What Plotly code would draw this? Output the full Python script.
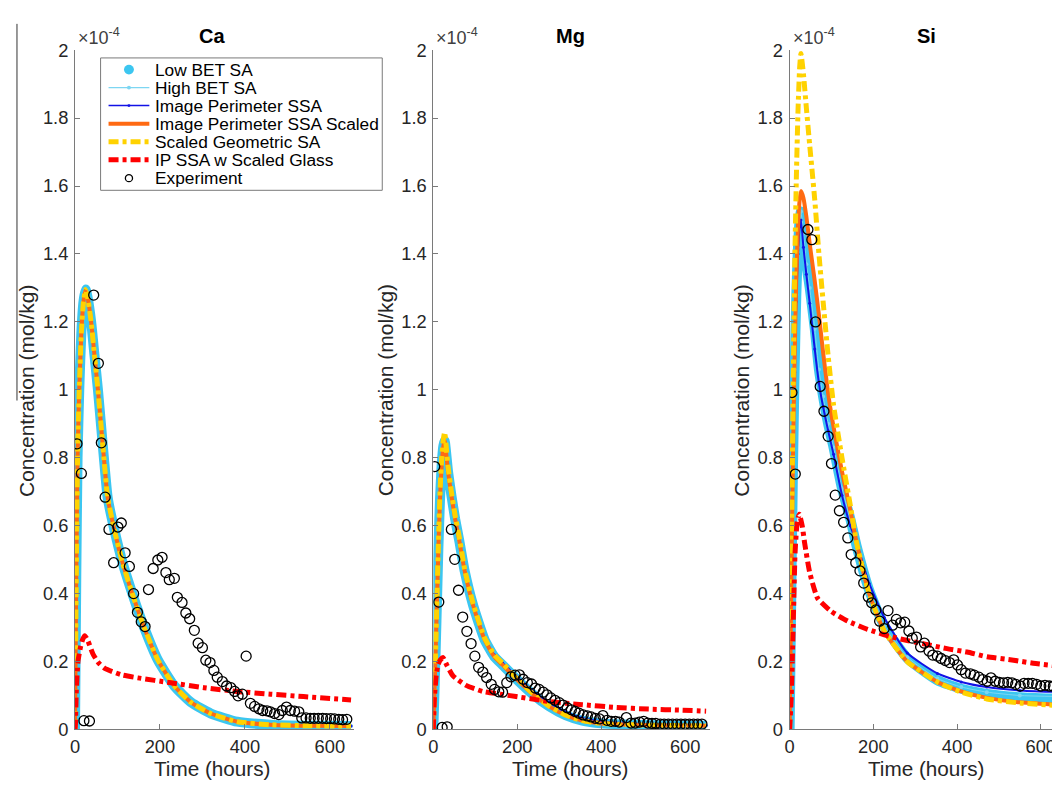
import plotly.graph_objects as go

# ---------------- data (concentration in units of 1e-4 mol/kg, time in hours) ----------------
ca_model_t = [0, 3, 6, 10, 15, 20, 25, 30, 38, 46, 54, 61, 68, 77, 93, 112, 136, 163, 195, 234, 273, 320, 382, 460, 550, 650]
ca_model = [0, 0.45, 0.8, 1.0, 1.17, 1.26, 1.295, 1.27, 1.2, 1.1, 1.0, 0.9, 0.8, 0.682, 0.586, 0.491, 0.396, 0.3, 0.205, 0.128, 0.08, 0.047, 0.023, 0.014, 0.011, 0.01]
ca_red_t = [0, 1, 3, 7, 13, 18, 23, 30, 42, 55, 70, 109, 148, 226, 304, 382, 460, 538, 650]
ca_red = [0, 0.015, 0.11, 0.2, 0.243, 0.265, 0.276, 0.262, 0.223, 0.197, 0.18, 0.161, 0.152, 0.1375, 0.123, 0.112, 0.104, 0.097, 0.087]
ca_exp_t = [4.7, 15, 21, 34, 44, 55, 62, 71, 80, 91, 101, 109, 118, 128, 138, 147, 156, 165, 173, 184, 195, 205, 214, 222, 234, 241, 252, 261, 270, 281, 290, 300, 308, 318, 327, 335, 347, 357, 367, 376, 384, 394, 403, 413, 423, 433, 442, 452, 460, 470, 480, 488, 498, 507, 517, 527, 534, 544, 554, 563, 573, 583, 592, 602, 611, 621, 630, 640]
ca_exp = [0.841, 0.754, 0.026, 0.025, 1.279, 1.078, 0.844, 0.684, 0.589, 0.491, 0.596, 0.608, 0.52, 0.48, 0.40, 0.345, 0.317, 0.303, 0.412, 0.474, 0.499, 0.507, 0.462, 0.441, 0.445, 0.389, 0.374, 0.343, 0.326, 0.292, 0.254, 0.241, 0.204, 0.197, 0.174, 0.154, 0.141, 0.128, 0.123, 0.112, 0.099, 0.104, 0.216, 0.077, 0.068, 0.061, 0.056, 0.055, 0.052, 0.047, 0.044, 0.056, 0.066, 0.056, 0.054, 0.052, 0.034, 0.034, 0.033, 0.033, 0.033, 0.033, 0.032, 0.032, 0.031, 0.03, 0.029, 0.03]

mg_model_t = [0, 3, 6, 9, 12, 16, 20, 24, 27, 35, 43, 52, 62, 75, 95, 122, 145, 165, 197, 236, 276, 315, 355, 400, 450, 500, 560, 650]
mg_model = [0, 0.12, 0.25, 0.39, 0.53, 0.68, 0.78, 0.835, 0.85, 0.76, 0.69, 0.62, 0.555, 0.465, 0.365, 0.265, 0.215, 0.19, 0.15, 0.105, 0.068, 0.042, 0.026, 0.018, 0.015, 0.013, 0.012, 0.011]
mg_ip = [0, 0.12, 0.25, 0.39, 0.53, 0.68, 0.78, 0.835, 0.85, 0.76, 0.69, 0.62, 0.555, 0.465, 0.365, 0.268, 0.22, 0.196, 0.158, 0.115, 0.08, 0.052, 0.034, 0.024, 0.019, 0.016, 0.014, 0.012]
mg_geo = [0, 0.12, 0.25, 0.4, 0.54, 0.7, 0.8, 0.855, 0.875, 0.775, 0.7, 0.63, 0.565, 0.47, 0.37, 0.27, 0.22, 0.195, 0.153, 0.107, 0.069, 0.043, 0.026, 0.018, 0.015, 0.013, 0.012, 0.011]
mg_red_t = [0, 3, 7, 11, 17, 23, 32, 47, 78, 118, 160, 197, 245, 276, 355, 434, 513, 592, 650]
mg_red = [0, 0.1, 0.16, 0.19, 0.205, 0.212, 0.19, 0.158, 0.13, 0.112, 0.104, 0.097, 0.088, 0.082, 0.073, 0.065, 0.06, 0.057, 0.054]
mg_exp_t = [3.3, 13, 21, 33, 43, 51, 60, 70, 80, 90, 99, 108, 118, 127, 138, 146, 156, 165, 175, 185, 195, 205, 214, 224, 234, 243, 252, 262, 271, 280, 290, 300, 309, 319, 329, 338, 347, 357, 367, 376, 386, 396, 404, 414, 424, 434, 443, 460, 471, 481, 491, 501, 511, 521, 530, 541, 550, 560, 570, 580, 590, 600, 610, 620, 630, 640]
mg_exp = [0.774, 0.375, 0.006, 0.008, 0.589, 0.501, 0.41, 0.331, 0.289, 0.253, 0.216, 0.183, 0.169, 0.153, 0.133, 0.118, 0.111, 0.11, 0.138, 0.155, 0.16, 0.161, 0.148, 0.138, 0.134, 0.122, 0.118, 0.11, 0.102, 0.093, 0.086, 0.079, 0.072, 0.064, 0.058, 0.053, 0.048, 0.043, 0.04, 0.037, 0.033, 0.031, 0.041, 0.027, 0.024, 0.024, 0.022, 0.035, 0.019, 0.019, 0.022, 0.024, 0.019, 0.018, 0.018, 0.016, 0.016, 0.016, 0.016, 0.016, 0.016, 0.016, 0.016, 0.016, 0.016, 0.016]

si_t = [0, 4, 8, 12, 16, 20, 24, 27, 33, 40, 48, 60, 70, 80, 92, 105, 125, 145, 160, 190, 226, 281, 353, 410, 471, 550, 646]
si_low = [0, 0.4, 0.77, 1.06, 1.28, 1.42, 1.5, 1.525, 1.46, 1.37, 1.3, 1.18, 1.06, 0.98, 0.9, 0.83, 0.71, 0.62, 0.54, 0.41, 0.305, 0.21, 0.145, 0.12, 0.105, 0.095, 0.09]
si_high = [0, 0.4, 0.77, 1.06, 1.28, 1.42, 1.5, 1.525, 1.46, 1.37, 1.3, 1.18, 1.06, 0.98, 0.9, 0.83, 0.71, 0.62, 0.54, 0.41, 0.305, 0.213, 0.15, 0.125, 0.11, 0.1, 0.097]
si_ip = [0, 0.4, 0.76, 1.05, 1.26, 1.4, 1.48, 1.5, 1.42, 1.34, 1.255, 1.12, 1.02, 0.95, 0.88, 0.81, 0.69, 0.6, 0.55, 0.43, 0.33, 0.225, 0.165, 0.14, 0.125, 0.115, 0.11]
si_ips = [0, 0.42, 0.8, 1.1, 1.33, 1.48, 1.56, 1.585, 1.565, 1.51, 1.43, 1.32, 1.22, 1.11, 0.99, 0.89, 0.76, 0.645, 0.55, 0.4, 0.29, 0.2, 0.14, 0.112, 0.093, 0.08, 0.072]
si_geo = [0, 0.5, 0.95, 1.35, 1.62, 1.82, 1.95, 1.99, 1.93, 1.83, 1.72, 1.56, 1.4, 1.26, 1.1, 0.955, 0.8, 0.66, 0.55, 0.4, 0.29, 0.2, 0.14, 0.11, 0.09, 0.078, 0.07]
si_red_t = [0, 4, 8, 13, 18, 23, 30, 36, 48, 67, 99, 139, 186, 234, 281, 321, 376, 424, 472, 535, 582, 646]
si_red = [0, 0.1, 0.28, 0.52, 0.61, 0.634, 0.6, 0.548, 0.462, 0.386, 0.348, 0.319, 0.295, 0.276, 0.262, 0.252, 0.238, 0.228, 0.214, 0.204, 0.195, 0.186]
si_exp_t = [5.6, 13.5, 43.7, 53, 62, 73, 82, 92, 100, 109, 119, 129, 139, 147, 158, 168, 177, 188, 196, 206, 215, 226, 235, 246, 255, 265, 275, 285, 293, 303, 313, 322, 333, 342, 353, 362, 372, 382, 392, 401, 410, 420, 432, 441, 452, 461, 472, 481, 491, 501, 511, 521, 531, 540, 551, 560, 570, 580, 590, 600, 610, 620, 630, 640]
si_exp = [0.992, 0.752, 1.472, 1.442, 1.2, 1.01, 0.937, 0.863, 0.783, 0.69, 0.644, 0.61, 0.564, 0.515, 0.491, 0.467, 0.431, 0.39, 0.373, 0.352, 0.319, 0.297, 0.35, 0.307, 0.324, 0.314, 0.316, 0.29, 0.269, 0.272, 0.243, 0.254, 0.231, 0.219, 0.216, 0.209, 0.203, 0.197, 0.205, 0.19, 0.176, 0.166, 0.164, 0.16, 0.154, 0.147, 0.142, 0.152, 0.142, 0.139, 0.1375, 0.139, 0.1375, 0.133, 0.128, 0.136, 0.136, 0.136, 0.133, 0.128, 0.13, 0.128, 0.127, 0.1375]

panel_titles = ["Ca", "Mg", "Si"]
series_names = ["Low BET SA", "High BET SA", "Image Perimeter SSA", "Image Perimeter SSA Scaled",
                "Scaled Geometric SA", "IP SSA w Scaled Glass", "Experiment"]
x_ticks = [0, 200, 400, 600]
y_ticks = [0, 0.2, 0.4, 0.6, 0.8, 1.0, 1.2, 1.4, 1.6, 1.8, 2.0]
y_ticktext = ["0", "0.2", "0.4", "0.6", "0.8", "1", "1.2", "1.4", "1.6", "1.8", "2"]

# ---------------- styling ----------------
# The page body has an 8px margin: the figure's top-left corner lands at (8, 8) of the window.
OX, OY = 8, 8
FW, FH = 1060, 786
FONT = "Liberation Sans, Arial, Helvetica, sans-serif"
C_LOW = "#3CC6F0"
C_HIGH = "#7DD6F2"
C_IP = "#1212E6"
C_IPS = "#FF6A12"
C_GEO = "#FFD200"
C_RED = "#FF0000"
DASHDOT = "10px,4px,4px,4px"
AXC = "#7a7a7a"

def px(x):
    return (x - OX) / FW

def py(y):
    return 1 - (y - OY) / FH

panels = [
    dict(name=panel_titles[0], x0=70.3, x1=350.2, xmax=656,
         t=dict(low=ca_model_t, high=ca_model_t, ip=ca_model_t, ips=ca_model_t, geo=ca_model_t, red=ca_red_t, exp=ca_exp_t),
         v=dict(low=ca_model, high=ca_model, ip=ca_model, ips=ca_model, geo=ca_model, red=ca_red, exp=ca_exp)),
    dict(name=panel_titles[1], x0=430.3, x1=708.2, xmax=659,
         t=dict(low=mg_model_t, high=mg_model_t, ip=mg_model_t, ips=mg_model_t, geo=mg_model_t, red=mg_red_t, exp=mg_exp_t),
         v=dict(low=mg_model, high=mg_model, ip=mg_ip, ips=mg_model, geo=mg_geo, red=mg_red, exp=mg_exp)),
    dict(name=panel_titles[2], x0=788.3, x1=1060.0, xmax=646,
         t=dict(low=si_t, high=si_t, ip=si_t, ips=si_t, geo=si_t, red=si_red_t, exp=si_exp_t),
         v=dict(low=si_low, high=si_high, ip=si_ip, ips=si_ips, geo=si_geo, red=si_red, exp=si_exp)),
]

fig = go.Figure()
SPL = dict(shape="spline", smoothing=0.5)

for i, p in enumerate(panels):
    ax = "" if i == 0 else str(i + 1)
    xa, ya = "x" + ax, "y" + ax
    t, v = p["t"], p["v"]
    fig.add_trace(go.Scatter(x=t["low"], y=v["low"], mode="lines", name=series_names[0],
                             line=dict(color=C_LOW, width=10, **SPL), xaxis=xa, yaxis=ya))
    fig.add_trace(go.Scatter(x=t["high"], y=v["high"], mode="lines+markers", name=series_names[1],
                             line=dict(color=C_HIGH, width=1, **SPL), marker=dict(color=C_HIGH, size=4),
                             xaxis=xa, yaxis=ya))
    fig.add_trace(go.Scatter(x=t["ip"], y=v["ip"], mode="lines+markers", name=series_names[2],
                             line=dict(color=C_IP, width=2, **SPL), marker=dict(color=C_IP, size=3),
                             xaxis=xa, yaxis=ya))
    fig.add_trace(go.Scatter(x=t["ips"], y=v["ips"], mode="lines", name=series_names[3],
                             line=dict(color=C_IPS, width=4, **SPL), xaxis=xa, yaxis=ya))
    fig.add_trace(go.Scatter(x=t["geo"], y=v["geo"], mode="lines", name=series_names[4],
                             line=dict(color=C_GEO, width=5, dash=DASHDOT, **SPL), xaxis=xa, yaxis=ya))
    fig.add_trace(go.Scatter(x=t["red"], y=v["red"], mode="lines", name=series_names[5],
                             line=dict(color=C_RED, width=5, dash=DASHDOT, **SPL), xaxis=xa, yaxis=ya))
    fig.add_trace(go.Scatter(x=t["exp"], y=v["exp"], mode="markers", name=series_names[6],
                             marker=dict(symbol="circle-open", color="black", size=10, line=dict(width=1.3)),
                             xaxis=xa, yaxis=ya))

axis_common = dict(showline=True, linecolor=AXC, linewidth=1, ticks="inside", ticklen=5,
                   tickcolor=AXC, showgrid=False, zeroline=False,
                   tickfont=dict(family=FONT, size=18.3, color="#262626"))

layout = dict(width=FW, height=FH, autosize=False, margin=dict(l=0, r=0, t=0, b=0, pad=0),
              paper_bgcolor="white", plot_bgcolor="white", showlegend=False,
              font=dict(family=FONT, color="#262626"))

annotations = []
shapes = []
for i, p in enumerate(panels):
    ax = "" if i == 0 else str(i + 1)
    layout["xaxis" + ax] = dict(axis_common, domain=[px(p["x0"]), px(p["x1"])], range=[0, p["xmax"]],
                                tickvals=x_ticks, anchor="y" + ax, ticklabelstandoff=1)
    layout["yaxis" + ax] = dict(axis_common, domain=[py(738), py(40)], range=[0, 2],
                                tickvals=y_ticks, ticktext=y_ticktext, anchor="x" + ax, ticklabelstandoff=2)
    cx = p["x0"] + 137.5
    annotations.append(dict(text="<b>%s</b>" % p["name"], x=px(cx), y=py(25), xref="paper", yref="paper",
                            showarrow=False, font=dict(family=FONT, size=20, color="#000"),
                            xanchor="center", yanchor="middle"))
    annotations.append(dict(text="×10<sup>-4</sup>", x=px(p["x0"] + 1), y=py(26), xref="paper", yref="paper",
                            showarrow=False, font=dict(family=FONT, size=18, color="#404040"),
                            xanchor="left", yanchor="middle"))
    annotations.append(dict(text="Concentration (mol/kg)", x=px(p["x0"] - 48), y=py(390), xref="paper",
                            yref="paper", showarrow=False, textangle=-90,
                            font=dict(family=FONT, size=21, color="#262626"),
                            xanchor="center", yanchor="middle"))
    annotations.append(dict(text="Time (hours)", x=px(cx), y=py(778.5), xref="paper", yref="paper",
                            showarrow=False, font=dict(family=FONT, size=20.7, color="#262626"),
                            xanchor="center", yanchor="middle"))

# ---- legend box (pixel positions of the original figure) ----
LX0, LX1, LY0, LY1 = 96, 379, 48, 184
shapes.append(dict(type="rect", xref="paper", yref="paper", x0=px(LX0), x1=px(LX1), y0=py(LY1), y1=py(LY0),
                   line=dict(color=AXC, width=1), fillcolor="white", layer="above"))
row_y = [60, 78.5, 97, 115.5, 134, 152.5, 171.5]
sx0, sx1, scx = 104, 145, 124.5

def seg(y, color, width, dash="solid"):
    return dict(type="line", xref="paper", yref="paper", x0=px(sx0), x1=px(sx1), y0=py(y), y1=py(y),
                line=dict(color=color, width=width, dash=dash), layer="above")

def dot(y, r, fill, line_color, lw=0):
    return dict(type="circle", xref="paper", yref="paper", x0=px(scx - r), x1=px(scx + r),
                y0=py(y + r), y1=py(y - r), fillcolor=fill,
                line=dict(color=line_color, width=lw), layer="above")

shapes.append(dot(row_y[0], 5, C_LOW, C_LOW, 0))
shapes.append(seg(row_y[1], C_HIGH, 1.2))
shapes.append(dot(row_y[1], 2, C_HIGH, C_HIGH, 0))
shapes.append(seg(row_y[2], C_IP, 1.5))
shapes.append(dot(row_y[2], 1.5, C_IP, C_IP, 0))
shapes.append(seg(row_y[3], C_IPS, 4))
shapes.append(seg(row_y[4], C_GEO, 5, DASHDOT))
shapes.append(seg(row_y[5], C_RED, 5, DASHDOT))
shapes.append(dot(row_y[6], 3.6, "rgba(0,0,0,0)", "black", 1.3))
for name, y in zip(series_names, row_y):
    annotations.append(dict(text=name, x=px(149), y=py(y), xref="paper", yref="paper", showarrow=False,
                            xanchor="left", yanchor="middle",
                            font=dict(family=FONT, size=17.3, color="#000")))

# thin vertical line at far left of the original image
shapes.append(dict(type="line", xref="paper", yref="paper", x0=px(12), x1=px(12), y0=py(13), y1=py(400),
                   line=dict(color="#333333", width=1)))

layout["annotations"] = annotations
layout["shapes"] = shapes
fig.update_layout(**layout)
fig.write_html("out.html", config={"displayModeBar": False})
